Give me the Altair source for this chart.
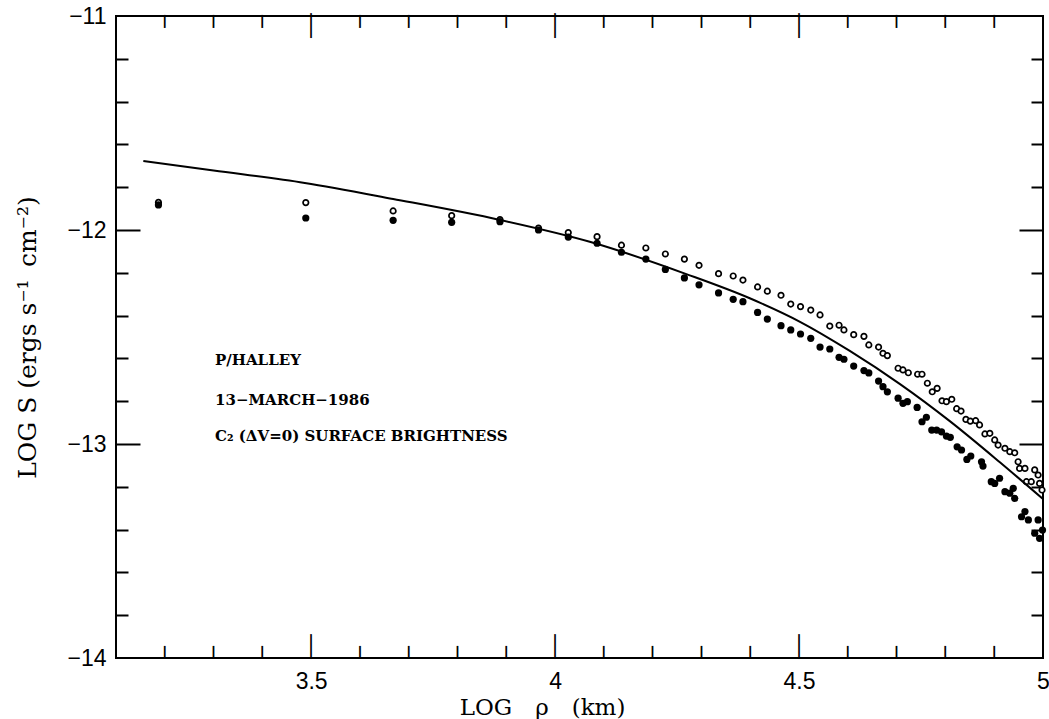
import altair as alt
import pandas as pd

# ---- data ----
filled_x = [3.187, 3.489, 3.668, 3.788, 3.887, 3.966, 4.027, 4.086, 4.136, 4.186,
            4.226, 4.265, 4.295, 4.335, 4.365, 4.385, 4.415, 4.435, 4.463, 4.483,
            4.503, 4.524, 4.543, 4.563, 4.582, 4.592, 4.612, 4.633, 4.643, 4.663,
            4.672, 4.681, 4.703, 4.713, 4.722, 4.742, 4.752, 4.761, 4.772, 4.782,
            4.792, 4.802, 4.810, 4.824, 4.833, 4.844, 4.852, 4.874, 4.877, 4.894,
            4.901, 4.911, 4.922, 4.932, 4.939, 4.942, 4.956, 4.963, 4.970, 4.983,
            4.990, 4.993, 4.999]
filled_y = [-11.883, -11.944, -11.955, -11.964, -11.961, -12.000, -12.033, -12.062, -12.104, -12.136,
            -12.184, -12.224, -12.256, -12.294, -12.324, -12.335, -12.385, -12.416, -12.447, -12.467,
            -12.486, -12.506, -12.547, -12.556, -12.595, -12.604, -12.636, -12.657, -12.668, -12.706,
            -12.732, -12.756, -12.786, -12.810, -12.802, -12.829, -12.896, -12.875, -12.935, -12.935,
            -12.943, -12.963, -12.969, -13.013, -13.028, -13.072, -13.056, -13.083, -13.103, -13.176,
            -13.184, -13.160, -13.223, -13.230, -13.207, -13.254, -13.340, -13.316, -13.355, -13.417,
            -13.355, -13.441, -13.402]

open_x = [3.187, 3.489, 3.668, 3.788, 3.887, 3.966, 4.027, 4.086, 4.136, 4.186,
          4.226, 4.265, 4.295, 4.335, 4.365, 4.385, 4.415, 4.435, 4.463, 4.483,
          4.503, 4.524, 4.543, 4.563, 4.582, 4.592, 4.612, 4.633, 4.643, 4.663,
          4.672, 4.681, 4.703, 4.713, 4.724, 4.743, 4.752, 4.763, 4.773, 4.783,
          4.793, 4.802, 4.813, 4.823, 4.832, 4.842, 4.851, 4.862, 4.870, 4.881,
          4.891, 4.901, 4.908, 4.922, 4.932, 4.942, 4.949, 4.952, 4.963, 4.966,
          4.976, 4.983, 4.990, 4.993, 4.998]
open_y = [-11.871, -11.872, -11.911, -11.933, -11.951, -11.991, -12.012, -12.031, -12.071, -12.084,
          -12.112, -12.136, -12.165, -12.204, -12.215, -12.234, -12.266, -12.286, -12.305, -12.346,
          -12.358, -12.374, -12.397, -12.449, -12.445, -12.467, -12.489, -12.497, -12.537, -12.547,
          -12.576, -12.587, -12.646, -12.654, -12.667, -12.674, -12.674, -12.716, -12.756, -12.740,
          -12.798, -12.802, -12.791, -12.835, -12.846, -12.885, -12.893, -12.891, -12.911, -12.953,
          -12.950, -12.981, -13.005, -13.020, -13.036, -13.041, -13.083, -13.114, -13.114, -13.176,
          -13.176, -13.121, -13.145, -13.184, -13.215]

model_x = [3.156, 3.30, 3.487, 3.668, 3.887, 4.071, 4.269, 4.399, 4.502, 4.604, 4.707, 4.809, 4.911, 5.0]
model_y = [-11.678, -11.722, -11.780, -11.855, -11.953, -12.055, -12.206, -12.319, -12.429,
           -12.565, -12.720, -12.893, -13.084, -13.257]

x_label_values = [3.5, 4.0, 4.5, 5.0]
y_label_values = [-14, -13, -12, -11]
x_major_ticks = [3.5, 4.0, 4.5]
x_minor_ticks = [3.2, 3.3, 3.4, 3.6, 3.7, 3.8, 3.9, 4.1, 4.2, 4.3, 4.4, 4.6, 4.7, 4.8, 4.9]
y_major_ticks = [-13, -12]
y_minor_ticks = [-13.8, -13.6, -13.4, -13.2, -12.8, -12.6, -12.4, -12.2, -11.8, -11.6, -11.4, -11.2]

notes = ["P/HALLEY", "13\u2212MARCH\u22121986", "C\u2082 (\u0394V=0) SURFACE BRIGHTNESS"]
note_y = [-12.607, -12.794, -12.963]
note_x = 3.303

W, H = 927, 642
MAJOR, MINOR = 24, 12

filled_df = pd.DataFrame({"x": filled_x, "y": filled_y})
open_df = pd.DataFrame({"x": open_x, "y": open_y})
model_df = pd.DataFrame({"x": model_x, "y": model_y})

xscale = alt.Scale(domain=[3.1, 5.0], nice=False, zero=False)
yscale = alt.Scale(domain=[-14, -11], nice=False, zero=False)


def y_tick_axis(orient, values, size):
    # axis moved across the plot so that its ticks point inward
    return alt.Axis(orient=orient, offset=-W, values=values, labels=False, title=None,
                    domain=False, grid=False, tickColor="black", tickWidth=2, tickSize=size)


label_x_axis = alt.Axis(orient="bottom", values=x_label_values, format="~g", ticks=False,
                        domain=False, grid=False, labelFont="Liberation Sans", labelFontSize=23,
                        labelColor="black", labelPadding=12, labelFlush=False,
                        title="LOG\u2003\u03c1\u2003(km)", titleFont="DejaVu Serif", titleFontSize=23,
                        titleFontWeight="normal", titleColor="black",
                        titleX=426, titleY=49, titleBaseline="middle", titleAnchor="middle")
label_y_axis = alt.Axis(orient="left", values=y_label_values, format="~g", ticks=False,
                        domain=False, grid=False, labelFont="Liberation Sans", labelFontSize=23,
                        labelColor="black", labelPadding=10,
                        title="LOG S (ergs s\u207b\u00b9\u2002cm\u207b\u00b2)", titleFont="DejaVu Serif",
                        titleFontSize=25, titleFontWeight="normal", titleColor="black",
                        titleX=-89, titleY=321, titleBaseline="middle", titleAnchor="middle")

model = alt.Chart(model_df).mark_line(color="black", strokeWidth=2, interpolate="monotone").encode(
    x=alt.X("x:Q", scale=xscale, axis=label_x_axis),
    y=alt.Y("y:Q", scale=yscale, axis=label_y_axis),
)

filled = alt.Chart(filled_df).mark_point(filled=True, shape="circle", size=52, color="black", opacity=1).encode(
    x=alt.X("x:Q", scale=xscale, axis=None),
    y=alt.Y("y:Q", scale=yscale, axis=y_tick_axis("right", y_minor_ticks, MINOR)),
)

hollow = alt.Chart(open_df).mark_point(filled=False, shape="circle", size=30, color="black",
                                       strokeWidth=1.7, fill="white", fillOpacity=1, opacity=1).encode(
    x=alt.X("x:Q", scale=xscale, axis=None),
    y=alt.Y("y:Q", scale=yscale, axis=y_tick_axis("left", y_minor_ticks, MINOR)),
)


def x_tick(value, glyph, font_size, at_top):
    # inward tick on the top / bottom frame, drawn as a vertical bar glyph placed by the scales
    return alt.Chart(model_df).mark_text(text=glyph, align="center",
                                         baseline="top" if at_top else "bottom",
                                         font="DejaVu Sans Mono", fontSize=font_size, color="black").encode(
        x=alt.X(datum=value, scale=xscale, axis=None),
        y=alt.Y(datum=(-11 if at_top else -14), scale=yscale, axis=None),
    ).transform_filter("datum.x == 5.0")


xtick_layers = []
for v in x_minor_ticks:
    xtick_layers.append(x_tick(v, "\u2503", 11, False))
    xtick_layers.append(x_tick(v, "\u2503", 11, True))
for v in x_major_ticks:
    xtick_layers.append(x_tick(v, "\u2502", 21, False))
    xtick_layers.append(x_tick(v, "\u2502", 21, True))

note_axes = [y_tick_axis("right", y_major_ticks, MAJOR), y_tick_axis("left", y_major_ticks, MAJOR), None]

text_layers = []
for txt, yy, ax_y in zip(notes, note_y, note_axes):
    text_layers.append(
        alt.Chart(model_df).mark_text(text=txt, align="left", baseline="middle", font="DejaVu Serif",
                                      fontWeight="bold", fontSize=15, color="black").encode(
            x=alt.X(datum=note_x, scale=xscale, axis=None),
            y=alt.Y(datum=yy, scale=yscale, axis=ax_y),
        ).transform_filter("datum.x == 5.0")
    )

chart = alt.layer(hollow, filled, model, *text_layers, *xtick_layers).resolve_axis(
    x="independent", y="independent"
).properties(
    width=W, height=H,
    autosize=alt.AutoSizeParams(type="none"),
    padding={"left": 116, "top": 16, "right": 6, "bottom": 61},
    background="white",
).configure_view(stroke="black", strokeWidth=2)

chart.save("out.html", embed_options={"renderer": "svg", "actions": False})
